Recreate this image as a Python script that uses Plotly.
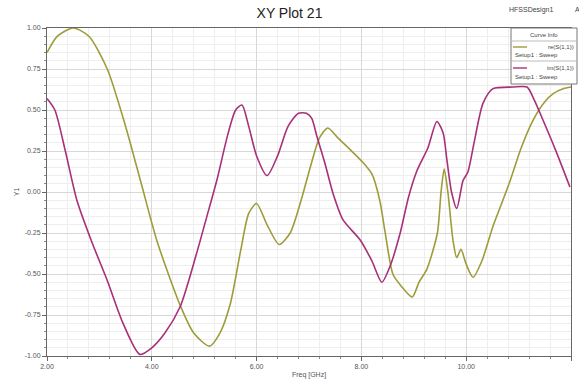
import plotly.graph_objects as go

re_freq = [2.0, 2.2, 2.5, 2.8, 3.15, 3.5, 3.8, 4.1, 4.54, 4.8, 5.1, 5.3, 5.5, 5.7, 5.85, 6.0, 6.2, 6.43, 6.64, 6.85,
           7.05, 7.2, 7.36, 7.55, 7.78, 8.03, 8.2, 8.35, 8.45, 8.6, 8.75, 8.97, 9.1, 9.25, 9.45, 9.52, 9.58, 9.65,
           9.75, 9.82, 9.9, 10.0, 10.13, 10.3, 10.51, 10.7, 10.84, 11.05, 11.28, 11.5, 11.66, 11.85, 12.0]
re_vals = [0.85, 0.95, 1.0, 0.95, 0.75, 0.40, 0.05, -0.30, -0.69, -0.86, -0.94, -0.86, -0.68, -0.35, -0.13, -0.07,
           -0.20, -0.32, -0.25, -0.05, 0.18, 0.33, 0.39, 0.33, 0.26, 0.18, 0.11, -0.05, -0.24, -0.50, -0.57, -0.64,
           -0.55, -0.47, -0.25, 0.0, 0.14, 0.0, -0.30, -0.40, -0.35, -0.44, -0.52, -0.42, -0.21, -0.05, 0.07, 0.27,
           0.44, 0.55, 0.60, 0.63, 0.64]

im_freq = [2.0, 2.15, 2.35, 2.57, 2.85, 3.15, 3.45, 3.77, 4.0, 4.25, 4.54, 4.85, 5.05, 5.24, 5.45, 5.6, 5.72, 5.85,
           6.0, 6.2, 6.4, 6.6, 6.8, 6.95, 7.05, 7.15, 7.3, 7.46, 7.65, 7.97, 8.2, 8.39, 8.55, 8.74, 8.9, 9.06, 9.27,
           9.44, 9.56, 9.63, 9.72, 9.82, 9.94, 10.03, 10.15, 10.32, 10.51, 10.89, 11.16, 11.3, 11.41, 11.7, 11.98]
im_vals = [0.57, 0.50, 0.25, -0.05, -0.30, -0.54, -0.80, -0.99, -0.95, -0.86, -0.70, -0.38, -0.15, 0.07, 0.35, 0.50,
           0.53, 0.40, 0.22, 0.10, 0.22, 0.40, 0.48, 0.48, 0.45, 0.34, 0.18, -0.01, -0.17, -0.29, -0.42, -0.55, -0.45,
           -0.25, -0.03, 0.13, 0.27, 0.43, 0.36, 0.20, 0.00, -0.10, 0.07, 0.12, 0.30, 0.54, 0.63, 0.64, 0.64, 0.56,
           0.48, 0.26, 0.03]

x_ticks = [2, 4, 6, 8, 10, 12]
x_tick_labels = ["2.00", "4.00", "6.00", "8.00", "10.00", "12.00"]
y_ticks = [-1, -0.75, -0.5, -0.25, 0, 0.25, 0.5, 0.75, 1]
y_tick_labels = ["-1.00", "-0.75", "-0.50", "-0.25", "0.00", "0.25", "0.50", "0.75", "1.00"]

series_names = ["re(S(1,1))", "im(S(1,1))"]
setup_label = "Setup1 : Sweep"
colors = ["rgb(158,156,58)", "rgb(168,48,120)"]

W, H = 579, 383
ML, MR, MT, MB = 47, 8, 28, 27
PW, PH = W - ML - MR, H - MT - MB


def px(xp):
    return (xp - ML) / PW


def py(yp):
    return (H - MB - yp) / PH


fig = go.Figure()
fig.add_trace(go.Scatter(x=re_freq, y=re_vals, mode="lines", name=series_names[0],
                         line=dict(color=colors[0], width=1.6, shape="spline", smoothing=0.7)))
fig.add_trace(go.Scatter(x=im_freq, y=im_vals, mode="lines", name=series_names[1],
                         line=dict(color=colors[1], width=1.6, shape="spline", smoothing=0.7)))

font = "Liberation Sans, Arial, sans-serif"
fig.update_layout(
    width=W, height=H,
    margin=dict(l=ML, r=MR, t=MT, b=MB),
    paper_bgcolor="white", plot_bgcolor="white",
    font=dict(family=font, size=7, color="#555"),
    title=dict(text="XY Plot 21", x=0.5, xanchor="center", y=1 - 13 / H, yanchor="middle",
               font=dict(family=font, size=14, color="#222")),
    showlegend=False,
    xaxis=dict(range=[2, 12], tickvals=x_ticks, ticktext=x_tick_labels, showgrid=True, automargin=False,
               gridcolor="#d8d8d8", gridwidth=1, zeroline=False, showline=True, linecolor="#666",
               linewidth=1, mirror=True, ticks="outside", ticklen=4, tickcolor="#666",
               title=dict(text="Freq [GHz]", standoff=2, font=dict(size=7, color="#555")),
               minor=dict(dtick=0.4, showgrid=True, gridcolor="#eeeeee", ticks="outside", ticklen=2,
                          tickcolor="#888")),
    yaxis=dict(range=[-1, 1], tickvals=y_ticks, ticktext=y_tick_labels, showgrid=True, automargin=False,
               gridcolor="#d8d8d8", gridwidth=1, zeroline=False, showline=True, linecolor="#666",
               linewidth=1, mirror=True, ticks="outside", ticklen=4, tickcolor="#666",
               title=dict(text="Y1", standoff=4, font=dict(size=7, color="#555")),
               minor=dict(dtick=0.05, showgrid=True, gridcolor="#eeeeee", ticks="outside", ticklen=2,
                          tickcolor="#888")),
)

# header texts
fig.add_annotation(text="HFSSDesign1", xref="paper", yref="paper", x=px(531), y=py(10), xanchor="center",
                   yanchor="middle", showarrow=False, font=dict(size=7, color="#444"))
fig.add_annotation(text="A", xref="paper", yref="paper", x=px(577), y=py(10), xanchor="center",
                   yanchor="middle", showarrow=False, font=dict(size=7, color="#444"))

# legend box ("Curve Info")
LX0, LX1, LY0, LY1 = 511, 577, 28, 84
fig.add_shape(type="rect", xref="paper", yref="paper", x0=px(LX0), x1=px(LX1), y0=py(LY1), y1=py(LY0),
              fillcolor="white", line=dict(color="#777", width=1), layer="above")
for sep in (41, 61):
    fig.add_shape(type="line", xref="paper", yref="paper", x0=px(LX0), x1=px(LX1), y0=py(sep), y1=py(sep),
                  line=dict(color="#bbb", width=1), layer="above")
fig.add_annotation(text="Curve Info", xref="paper", yref="paper", x=px((LX0 + LX1) / 2), y=py(35),
                   xanchor="center", yanchor="middle", showarrow=False, font=dict(size=6, color="#444"))
for i, (yl, ys) in enumerate([(47, 55), (68, 77)]):
    fig.add_shape(type="line", xref="paper", yref="paper", x0=px(513), x1=px(527), y0=py(yl), y1=py(yl),
                  line=dict(color=colors[i], width=1.4), layer="above")
    fig.add_annotation(text=series_names[i], xref="paper", yref="paper", x=px(576), y=py(yl),
                       xanchor="right", yanchor="middle", showarrow=False, font=dict(size=6, color="#444"))
    fig.add_annotation(text=setup_label, xref="paper", yref="paper", x=px(513), y=py(ys),
                       xanchor="left", yanchor="middle", showarrow=False, font=dict(size=6, color="#444"))

fig.write_html("out.html")
